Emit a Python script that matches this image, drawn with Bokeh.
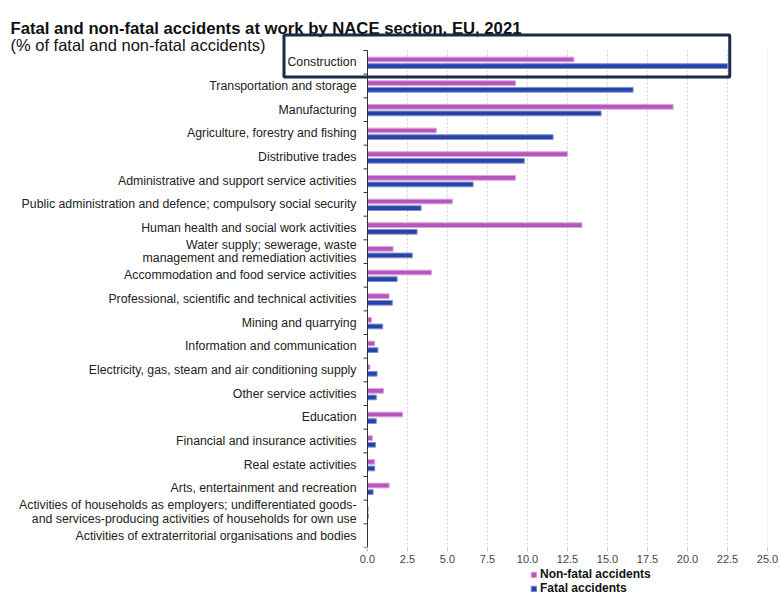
from bokeh.plotting import figure
from bokeh.layouts import column
from bokeh.core.properties import value
from bokeh.models import (Range1d, FixedTicker, Label, BoxAnnotation, Legend, LegendItem,
                          PrintfTickFormatter)
from bokeh.embed import file_html
from bokeh.resources import INLINE

categories = [
    "Construction",
    "Transportation and storage",
    "Manufacturing",
    "Agriculture, forestry and fishing",
    "Distributive trades",
    "Administrative and support service activities",
    "Public administration and defence; compulsory social security",
    "Human health and social work activities",
    "Water supply; sewerage, waste\nmanagement and remediation activities",
    "Accommodation and food service activities",
    "Professional, scientific and technical activities",
    "Mining and quarrying",
    "Information and communication",
    "Electricity, gas, steam and air conditioning supply",
    "Other service activities",
    "Education",
    "Financial and insurance activities",
    "Real estate activities",
    "Arts, entertainment and recreation",
    "Activities of households as employers; undifferentiated goods-\nand services-producing activities of households for own use",
    "Activities of extraterritorial organisations and bodies",
]
non_fatal = [12.9, 9.25, 19.1, 4.3, 12.5, 9.25, 5.3, 13.4, 1.6, 4.0, 1.35,
             0.25, 0.45, 0.15, 1.0, 2.2, 0.3, 0.45, 1.35, 0.05, 0.0]
fatal = [22.5, 16.6, 14.6, 11.6, 9.8, 6.6, 3.35, 3.1, 2.8, 1.85, 1.55,
         0.95, 0.65, 0.6, 0.55, 0.55, 0.5, 0.45, 0.35, 0.05, 0.0]
x_ticks = [0.0, 2.5, 5.0, 7.5, 10.0, 12.5, 15.0, 17.5, 20.0, 22.5, 25.0]
series_names = ["Non-fatal accidents", "Fatal accidents"]
title_text = "Fatal and non-fatal accidents at work by NACE section, EU, 2021"
subtitle_text = "(% of fatal and non-fatal accidents)"
highlight = "Construction"

FONT = "Liberation Sans"
C_NF = "#B656BD"
C_F = "#2644A7"
E_NF = "#D9A6DC"
E_F = "#8090CF"
BOX_C = "#1B2A4A"
AX_C = "#333333"

n = len(categories)
idx = list(range(n))
y_nf = [i - 0.12 for i in idx]
y_f = [i + 0.16 for i in idx]

# layout geometry (pixels): the frame spans the whole width so that the category
# labels and the highlight frame can sit left of / above the value axis origin
W, H = 780, 567
LEG_H = 595 - H
FRAME_R = 767          # right edge of the frame
AX0 = 367              # pixel where the value 0 sits
TOP = 50               # top of the first category band
BOT = 547              # bottom of the last category band
xmax = x_ticks[-1]
ppu = (FRAME_R - AX0) / xmax          # pixels per unit on x
band = (BOT - TOP) / n                # pixels per category


def px_x(px):
    return (px - AX0) / ppu


def px_y(px):
    return -0.5 + (px - TOP) / band


p = figure(width=W, height=H, x_range=Range1d(px_x(0), xmax),
           y_range=Range1d(n - 0.5, px_y(0)),
           output_backend="svg", toolbar_location=None, title=None,
           min_border_left=0, min_border_right=W - FRAME_R, min_border_bottom=H - BOT,
           min_border_top=0)
p.outline_line_color = None
p.background_fill_color = "white"
p.yaxis.visible = False
p.grid.visible = False

# titles
p.add_layout(Label(x=px_x(10), y=px_y(28), text=title_text, text_font=FONT,
                   text_font_size="16.7px", text_font_style="bold", text_color="#111111",
                   text_baseline="alphabetic", text_align="left"))
p.add_layout(Label(x=px_x(10), y=px_y(44.5), text=subtitle_text, text_font=FONT,
                   text_font_size="16.5px", text_color="#111111",
                   text_baseline="alphabetic", text_align="left"))

# vertical dotted grid lines at the value ticks
p.segment(x0=x_ticks, y0=[-0.5] * len(x_ticks), x1=x_ticks, y1=[n - 0.5] * len(x_ticks),
          line_color="#d0d0d0", line_dash="2 2", line_width=1)

# bars
r_nf = p.hbar(y=y_nf, right=non_fatal, left=0, height=0.2, fill_color=C_NF,
              line_color=E_NF, line_width=1)
r_f = p.hbar(y=y_f, right=fatal, left=0, height=0.2, fill_color=C_F,
             line_color=E_F, line_width=1)

# category axis: line, ticks between categories, labels
bounds = [i - 0.5 for i in range(n + 1)]
p.segment(x0=[0], y0=[-0.5], x1=[0], y1=[n - 0.5], line_color=AX_C, line_width=1)
p.segment(x0=[px_x(AX0 - 4)] * len(bounds), y0=bounds, x1=[0] * len(bounds), y1=bounds,
          line_color=AX_C, line_width=1)
p.text(x=[0] * n, y=idx, text=categories, x_offset=-11, text_align="right",
       text_baseline="middle", text_font=value(FONT), text_font_size="12.3px",
       text_line_height=0.95, text_color="#222222")

# highlight frame around the "Construction" row
h = categories.index(highlight)
p.add_layout(BoxAnnotation(left=px_x(283.5), right=fatal[h] + 0.14,
                           top=h + px_y(34.5) - px_y(TOP + band / 2),
                           bottom=h + 0.62,
                           fill_color=None, fill_alpha=0, line_color=BOX_C,
                           line_alpha=1, line_width=3))

# value axis
xa = p.xaxis[0]
xa.ticker = FixedTicker(ticks=x_ticks)
xa.formatter = PrintfTickFormatter(format="%.1f")
xa.axis_line_color = None
xa.major_tick_line_color = "#c8c8c8"
xa.major_tick_out = 4
xa.major_tick_in = 0
xa.minor_tick_line_color = None
xa.major_label_text_font = FONT
xa.major_label_text_font_size = "11px"
xa.major_label_text_color = "#444444"
xa.major_label_standoff = 3

# legend strip below the chart (its renderers hold the real series, kept out of view)
q = figure(width=W, height=LEG_H, x_range=Range1d(0, 1), y_range=Range1d(100, 101),
           output_backend="svg", toolbar_location=None, title=None,
           min_border_left=0, min_border_right=W - FRAME_R, min_border_top=0,
           min_border_bottom=0)
q.axis.visible = False
q.grid.visible = False
q.outline_line_color = None
l_nf = q.hbar(y=y_nf, right=non_fatal, left=0, height=0.2, fill_color=C_NF, line_color=E_NF)
l_f = q.hbar(y=y_f, right=fatal, left=0, height=0.2, fill_color=C_F, line_color=E_F)
legend = Legend(items=[LegendItem(label=series_names[0], renderers=[l_nf]),
                       LegendItem(label=series_names[1], renderers=[l_f])],
                location=(530, 0), orientation="vertical",
                glyph_width=7, glyph_height=7, label_height=LEG_H // 2,
                label_standoff=3,
                spacing=0, padding=0, margin=0, border_line_color=None,
                background_fill_alpha=0,
                label_text_font=FONT, label_text_font_size="12px",
                label_text_font_style="bold", label_text_color="#111111")
q.add_layout(legend, "center")

open("out.html", "w").write(file_html(column(p, q, spacing=0), INLINE))
